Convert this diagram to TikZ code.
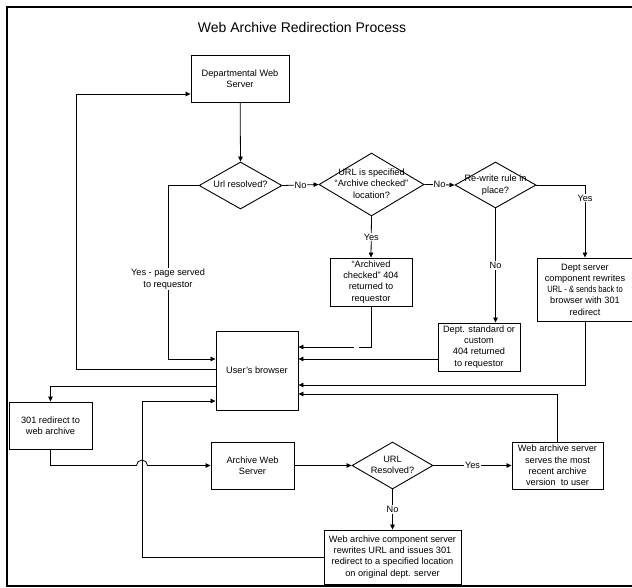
\documentclass[tikz,border=0pt]{standalone}
\usepackage{fontspec}
\usepackage{graphicx}
\setmainfont{Liberation Sans}
\usetikzlibrary{arrows.meta,shapes.geometric}
\newcommand\dtext[1]{\makebox[0pt]{\raisebox{-2.5pt}[0pt][0pt]{\begin{tabular}{@{}c@{}}#1\end{tabular}}}}
\tikzset{
  nfont/.style={font=\fontsize{9.2}{11.2}\selectfont},
  box/.style={draw, line width=0.9pt, rectangle, inner sep=0pt, align=center, nfont},
  dia/.style={draw, line width=0.9pt, diamond, inner sep=0pt, nfont},
  conn/.style={line width=0.8pt},
  arr/.style={conn, -{Triangle[length=5pt,width=4.5pt]}},
  lbl/.style={fill=white, inner sep=1pt, align=center, nfont},
}
\begin{document}
\begin{tikzpicture}[x=1pt,y=-1pt]
\useasboundingbox (0,0) rectangle (632,587);
\draw[line width=2pt] (7,7) rectangle (660,586);
\node[font=\fontsize{14}{16}\selectfont] (title) at (302,27) {Web Archive Redirection Process};

\node[box, minimum width=98pt, minimum height=47pt] (dept) at (240,78.5) {Departmental Web\\Server};
\node[dia, minimum width=83pt, minimum height=47pt] (d1) at (240.5,185.5) {\dtext{Url resolved?}};
\node[dia, minimum width=105pt, minimum height=63pt] (d2) at (371.5,184.5) {\dtext{URL is specified\\“Archive checked”\\location?}};
\node[dia, minimum width=81pt, minimum height=46pt] (d3) at (495.5,185) {\dtext{Re-write rule in\\place?}};
\node[box, minimum width=82pt, minimum height=48pt] (ac) at (371,282) {“Archived\\checked” 404\\returned to\\requestor};
\node[box, minimum width=82pt, minimum height=48pt] (ds) at (479,347) {Dept. standard or\\custom\\404 returned\\to requestor};
\node[box, minimum width=96pt, minimum height=63pt] (dsc) at (585,289.5) {Dept server\\component rewrites\\\scalebox{0.82}[1]{URL - \& sends back to}\\browser with 301\\redirect};
\node[box, minimum width=82pt, minimum height=79pt] (ub) at (257,370.5) {User's browser};
\node[box, minimum width=83pt, minimum height=47pt] (r301) at (50.5,425.5) {301 redirect to\\web archive};
\node[box, minimum width=83pt, minimum height=47pt] (aws) at (252.5,465.5) {Archive Web\\Server};
\node[dia, minimum width=81pt, minimum height=47pt] (d4) at (392.5,465.5) {\dtext{URL\\Resolved?}};
\node[box, minimum width=91pt, minimum height=47pt] (was) at (557.5,465.5) {Web archive server\\serves the most\\recent archive\\version~ to user};
\node[box, minimum width=137pt, minimum height=54pt] (wac) at (392.5,557) {Web archive component server\\rewrites URL and issues 301\\redirect to a specified location\\on original dept. server};

% top flow
\draw[arr] (dept) -- (d1.north);
\draw[arr] (d1.east) -- node[lbl] {No} (d2.west);
\draw[arr] (d2.east) -- node[lbl] {No} (d3.west);
\draw[arr] (d3.east) -| node[lbl, pos=0.59] {Yes} (dsc.north);
\draw[arr] (d3.south) -- node[lbl] {No} (d3.south |- ds.north);
\draw[arr] (d2.south) -- node[lbl] {Yes} (ac.north);

% returns to the browser (right side)
\coordinate (g1) at (359,347);
\coordinate (g2) at (354,347);
\draw[conn] (ac.south) |- (g1);
\draw[arr] (g2) -- (g2 -| ub.east);
\draw[arr] ([yshift=-12pt]ds.west) -- ([yshift=-12pt]ds.west -| ub.east);
\draw[arr] (dsc.south) |- (ub.east |- 0,385);
\draw[arr] (was.north) |- (ub.east |- 0,394);

% left side
\draw[arr] (d1.west) -| node[lbl, pos=0.77] {Yes - page served\\to requestor} (168,359) -- (ub.west |- 0,359);
\draw[arr] ([yshift=1.5pt]ub.west) -| (76,94) -- ([yshift=-15.5pt]dept.west);
\draw[arr] ([yshift=-15.5pt]ub.west) -| (r301.north);
\draw[arr] (r301.south) |- (136.5,465.5) arc[start angle=180, end angle=0, radius=5.5pt] -- (aws.west);
\draw[arr] (wac.west) -| (142,401) -- (ub.west |- 0,401);

% bottom flow
\draw[arr] (aws) -- (d4);
\draw[arr] (d4) -- node[lbl] {Yes} (was);
\draw[arr] (d4) -- node[lbl] {No} (wac);
\end{tikzpicture}
\end{document}
